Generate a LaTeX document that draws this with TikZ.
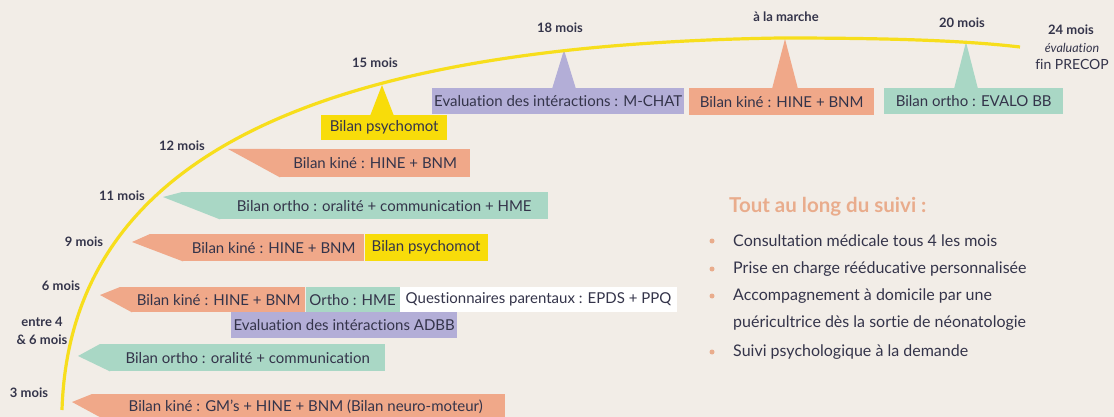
\documentclass[tikz,border=0pt]{standalone}
\usepackage{fontspec}
\setmainfont{Lato}[Ligatures=NoCommon]
\usetikzlibrary{calc}
\definecolor{fond}{HTML}{F2EDE7}
\definecolor{encre}{HTML}{34344A}
\definecolor{kine}{HTML}{F0A889}
\definecolor{ortho}{HTML}{A9D7C5}
\definecolor{inter}{HTML}{B3AED7}
\definecolor{psy}{HTML}{F8DC0A}
\definecolor{frisecol}{HTML}{F7DE1C}
\definecolor{titrecol}{HTML}{E9AC8C}
\tikzset{
  mois/.style={font=\bfseries\fontsize{13}{18}\selectfont, text=encre, inner sep=0pt, align=center},
  fanion/.style={font=\fontsize{15}{17}\selectfont, text=encre, inner sep=0pt, anchor=north west},
  item/.style={font=\fontsize{16}{27}\selectfont, text=encre, inner sep=0pt, anchor=west, align=left},
  puce/.style={circle, fill=titrecol, inner sep=0pt, minimum size=5pt},
  frise/.style={frisecol, line width=3.2pt}
}
\begin{document}
\begin{tikzpicture}[x=1pt,y=-1pt]
\fill[fond] (0,0) rectangle (1114,417);
\useasboundingbox (0,0) rectangle (1114,417);
% 3 mois
\node[fanion, fill=kine, minimum width=399, minimum height=26] (k3) at (106,394) {Bilan kiné : GM’s + HINE + BNM (Bilan neuro-moteur)};
\fill[kine] (72,402) -- (92,394) -- (k3.north west) -- (k3.south west) -- cycle;
% entre 4 et 6 mois
\node[fanion, fill=ortho, minimum width=275, minimum height=27] (o46) at (110,344) {Bilan ortho : oralité + communication};
\fill[ortho] (78,356) -- (100,344) -- (o46.north west) -- (o46.south west) -- cycle;
% 6 mois
\node[fanion, fill=kine, minimum width=173, minimum height=25] (k6) at (132,287) {Bilan kiné : HINE + BNM};
\fill[kine] (100,295) -- (120,287) -- (k6.north west) -- (k6.south west) -- cycle;
\node[fanion, fill=ortho, minimum width=94, minimum height=25] (o6) at (k6.north east) {Ortho : HME};
\node[fanion, fill=white, minimum width=277, minimum height=25] (q6) at (o6.north east) {Questionnaires parentaux : EPDS + PPQ};
\node[fanion, fill=inter, minimum width=226, minimum height=26] (e6) at (231,312) {Evaluation des intéractions ADBB};
% 9 mois
\node[fanion, fill=kine, minimum width=181, minimum height=27] (k9) at (183,234) {Bilan kiné : HINE + BNM};
\fill[kine] (132,242) -- (150,234) -- (k9.north west) -- (k9.south west) -- cycle;
\node[fanion, fill=psy, minimum width=123, minimum height=27] (p9) at (k9.north east) {Bilan psychomot};
% 11 mois
\node[fanion, fill=ortho, minimum width=328, minimum height=27] (o11) at (220,192) {Bilan ortho : oralité + communication + HME};
\fill[ortho] (163,197) -- (182,192) -- (o11.north west) -- (o11.south west) -- cycle;
% 12 mois
\node[fanion, fill=kine, minimum width=190, minimum height=28] (k12) at (280,149) {Bilan kiné : HINE + BNM};
\fill[kine] (228,149) -- (k12.north west) -- (k12.south west) -- cycle;
% boites du haut
\coordinate (c15) at (382,85);
\coordinate (c18) at (564,50);
\coordinate (cmarche) at (785,39);
\coordinate (c20) at (966,42);
\node[fanion, fill=psy, minimum width=126, minimum height=25] (p15) at (321,115) {Bilan psychomot};
\node[fanion, fill=inter, minimum width=252, minimum height=26] (e18) at (432,88) {Evaluation des intéractions : M-CHAT};
\node[fanion, fill=kine, minimum width=185, minimum height=27] (kmarche) at (689,88) {Bilan kiné : HINE + BNM};
\node[fanion, fill=ortho, minimum width=179, minimum height=26] (o20) at (884,88) {Bilan ortho : EVALO BB};
\fill[psy] (c15) -- ($(c15|-p15.north)+(-12,1)$) -- ($(c15|-p15.north)+(12,1)$) -- cycle;
\fill[inter] (c18) -- ($(c18|-e18.north)+(-12,1)$) -- ($(c18|-e18.north)+(12,1)$) -- cycle;
\fill[kine] (cmarche) -- ($(cmarche|-kmarche.north)+(-13,1)$) -- ($(cmarche|-kmarche.north)+(13,1)$) -- cycle;
\fill[ortho] (c20) -- ($(c20|-o20.north)+(-12,1)$) -- ($(c20|-o20.north)+(12,1)$) -- cycle;
% la frise
\draw[frise] (62,410) .. controls (70,150) and (330,45) .. (780,38) .. controls (880,38) and (960,40) .. (1020,47);
% les mois
\node[mois] (m3) at (29,393) {3 mois};
\node[mois] (m46) at (42,331) {entre 4\\\& 6 mois};
\node[mois] (m6) at (61,286) {6 mois};
\node[mois] (m9) at (84,242) {9 mois};
\node[mois] (m11) at (122,196) {11 mois};
\node[mois] (m12) at (182,146) {12 mois};
\node[mois] (m15) at (375,63) {15 mois};
\node[mois] (m18) at (560,28) {18 mois};
\node[mois] (mmarche) at (786,17) {à la marche};
\node[mois] (m20) at (962,23) {20 mois};
\node[mois] (m24) at (1071,30) {24 mois};
\node[mois, font=\itshape\fontsize{12.5}{14}\selectfont] (eval) at (1072,48) {évaluation};
\node[mois, font=\fontsize{14}{16}\selectfont] (fin) at (1072,64) {fin PRECOP};
% tout au long du suivi
\node[anchor=west, inner sep=0pt, text=titrecol, font=\bfseries\fontsize{20.5}{22}\selectfont] (suivi) at (729,207) {Tout au long du suivi :};
\node[puce] (b1) at (712,241) {};
\node[item] (t1) at (733,241) {Consultation médicale tous 4 les mois};
\node[puce] (b2) at (712,269) {};
\node[item] (t2) at (733,269) {Prise en charge rééducative personnalisée};
\node[puce] (b3) at (712,296) {};
\node[item] (t3) at (733,310) {Accompagnement à domicile par une\\puéricultrice dès la sortie de néonatologie};
\node[puce] (b4) at (712,352) {};
\node[item] (t4) at (733,352) {Suivi psychologique à la demande};
\end{tikzpicture}
\end{document}
